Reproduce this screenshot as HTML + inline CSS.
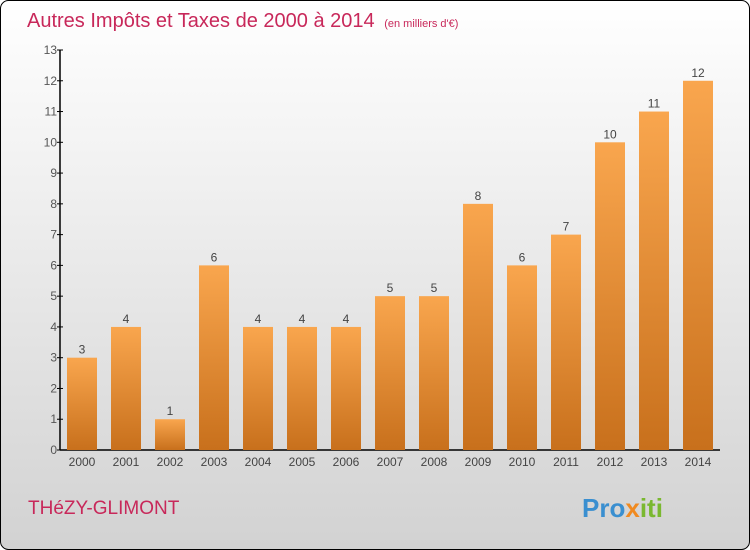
<!DOCTYPE html>
<html><head><meta charset="utf-8"><style>
body{margin:0;width:750px;height:550px;overflow:hidden}
svg{display:block;font-family:"Liberation Sans",sans-serif}
</style></head><body>
<svg id="c" width="750" height="550">
<defs>
<linearGradient id="bg" x1="0" y1="0" x2="0" y2="1"><stop offset="0" stop-color="#ffffff"/><stop offset="1" stop-color="#d2d2d2"/></linearGradient>
<linearGradient id="bar" x1="0" y1="0" x2="0" y2="1"><stop offset="0" stop-color="#f9a64e"/><stop offset="1" stop-color="#c8701c"/></linearGradient>
</defs>
<rect x="0.5" y="0.5" width="749" height="549" rx="8" fill="url(#bg)" stroke="#000"/>
<text x="27" y="27" font-size="20" fill="#c8285a">Autres Impôts et Taxes de 2000 à 2014 <tspan font-size="11" dx="4">(en milliers d'€)</tspan></text>
<text x="28" y="514" font-size="19" fill="#c8285a">THéZY-GLIMONT</text>
<text x="582" y="517" font-size="26" font-weight="bold" fill="#3a8fd0">Pro<tspan fill="#f08a20">x</tspan><tspan fill="#7ab830">iti</tspan></text>
<g id="plot"></g>
</svg>
<script>
const categories=["2000","2001","2002","2003","2004","2005","2006","2007","2008","2009","2010","2011","2012","2013","2014"];
const values=[3,4,1,6,4,4,4,5,5,8,6,7,10,11,12];
const yTicks=[0,1,2,3,4,5,6,7,8,9,10,11,12,13];
const NS="http://www.w3.org/2000/svg";
const g=document.getElementById('plot');
const x0=60,y0=450,yTop=50,yMax=13,step=44,bw=30;
const y=v=>y0-(v/yMax)*(y0-yTop);
const xc=i=>82+i*step;
function mk(t,a){const e=document.createElementNS(NS,t);for(const k in a)e.setAttribute(k,a[k]);g.appendChild(e);return e;}
let ax=mk('line',{x1:x0,y1:yTop,x2:x0,y2:y0,stroke:'#000','stroke-width':1.5});


let bx=mk('line',{x1:x0,y1:y0,x2:720,y2:y0,stroke:'#000','stroke-width':1.5});


yTicks.forEach(v=>{
 let t=mk('line',{x1:x0-3,y1:y(v),x2:x0+3,y2:y(v),stroke:'#000'});
 
 
 let l=mk('text',{x:x0-3,y:y(v)+4,'font-size':12,fill:'#555','text-anchor':'end'});
 l.textContent=v;
 
 
});
categories.forEach((c,i)=>{
 let r=mk('rect',{x:xc(i)-bw/2,y:y(values[i]),width:bw,height:y0-y(values[i]),fill:'url(#bar)'});
 
 
 let v=mk('text',{x:xc(i),y:y(values[i])-4,'font-size':12,fill:'#444','text-anchor':'middle'});
 v.textContent=values[i];
 
 
 let l=mk('text',{x:xc(i),y:466,'font-size':12,fill:'#444','text-anchor':'middle'});
 l.textContent=c;
 
 
});
</script>
</body></html>
